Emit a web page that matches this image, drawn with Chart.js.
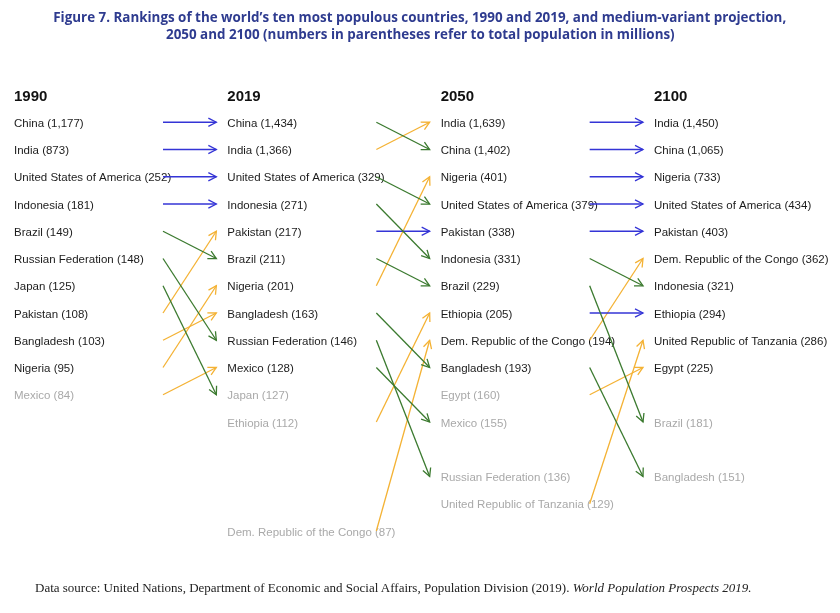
<!DOCTYPE html>
<html>
<head>
<meta charset="utf-8">
<script src="https://cdn.jsdelivr.net/npm/chart.js@4.4.1/dist/chart.umd.min.js"></script>
<style>
html,body{margin:0;padding:0;background:#fff;}
#wrap{position:relative;width:840px;height:613px;overflow:hidden;}
#title{position:absolute;top:8px;left:0;width:840px;text-align:center;font-family:"Open Sans","Liberation Sans",sans-serif;font-weight:bold;font-size:14.5px;line-height:17px;color:#2e3b8f;white-space:nowrap;z-index:2;}
#title span{display:inline-block;transform-origin:50% 50%;}
#footer{position:absolute;left:35px;top:580px;font-family:"Liberation Serif","Times New Roman",serif;font-size:13px;line-height:16px;color:#222;white-space:nowrap;z-index:2;}
canvas{position:absolute;left:0;top:0;}
</style>
</head>
<body>
<div id="wrap">
<canvas id="c" width="840" height="613"></canvas>
<div id="title"><span id="t1">Figure 7. Rankings of the world’s ten most populous countries, 1990 and 2019, and medium-variant projection,</span><br><span id="t2">2050 and 2100 (numbers in parentheses refer to total population in millions)</span></div>
<div id="footer">Data source: United Nations, Department of Economic and Social Affairs, Population Division (2019). <i>World Population Prospects 2019.</i></div>
</div>
<script>
// ---- Data ----
const years = ['1990', '2019', '2050', '2100'];

const countries1990 = ['China','India','United States of America','Indonesia','Brazil','Russian Federation','Japan','Pakistan','Bangladesh','Nigeria','Mexico'];
const pop1990 = [1177, 873, 252, 181, 149, 148, 125, 108, 103, 95, 84];
const rows1990 = [1,2,3,4,5,6,7,8,9,10,11];

const countries2019 = ['China','India','United States of America','Indonesia','Pakistan','Brazil','Nigeria','Bangladesh','Russian Federation','Mexico','Japan','Ethiopia','Dem. Republic of the Congo'];
const pop2019 = [1434, 1366, 329, 271, 217, 211, 201, 163, 146, 128, 127, 112, 87];
const rows2019 = [1,2,3,4,5,6,7,8,9,10,11,12,16];

const countries2050 = ['India','China','Nigeria','United States of America','Pakistan','Indonesia','Brazil','Ethiopia','Dem. Republic of the Congo','Bangladesh','Egypt','Mexico','Russian Federation','United Republic of Tanzania'];
const pop2050 = [1639, 1402, 401, 379, 338, 331, 229, 205, 194, 193, 160, 155, 136, 129];
const rows2050 = [1,2,3,4,5,6,7,8,9,10,11,12,14,15];

const countries2100 = ['India','China','Nigeria','United States of America','Pakistan','Dem. Republic of the Congo','Indonesia','Ethiopia','United Republic of Tanzania','Egypt','Brazil','Bangladesh'];
const pop2100 = [1450, 1065, 733, 434, 403, 362, 321, 294, 286, 225, 181, 151];
const rows2100 = [1,2,3,4,5,6,7,8,9,10,12,14];

// ---- Title fit (condensed look) ----
(function () {
  const t1 = document.getElementById('t1'), t2 = document.getElementById('t2');
  const s = 733 / t1.getBoundingClientRect().width;
  t1.style.transform = 'scaleX(' + s + ')';
  t2.style.transform = 'scaleX(' + s + ')';
})();

// ---- Build ----
const columns = [
  {names: countries1990, pops: pop1990, rows: rows1990},
  {names: countries2019, pops: pop2019, rows: rows2019},
  {names: countries2050, pops: pop2050, rows: rows2050},
  {names: countries2100, pops: pop2100, rows: rows2100}
];

const TAIL = 149/213.33, HEAD = 1 - 11/213.33;
const BLUE = '#3434d6', GREEN = '#3b7a2f', ORANGE = '#f4b234';

const datasets = [];
for (let c = 0; c < columns.length - 1; c++) {
  const a = columns[c], b = columns[c+1];
  a.names.forEach((n, i) => {
    const j = b.names.indexOf(n);
    if (j < 0) return;
    const r1 = a.rows[i], r2 = b.rows[j];
    const col = r1 === r2 ? BLUE : (r2 > r1 ? GREEN : ORANGE);
    datasets.push({
      label: n + ' ' + years[c] + '→' + years[c+1],
      data: [{x: c + TAIL, y: r1}, {x: c + HEAD, y: r2}],
      showLine: true,
      borderColor: col,
      backgroundColor: col,
      borderWidth: 1.3,
      pointRadius: 0,
      pointHoverRadius: 0,
      fill: false
    });
  });
}

const labelPlugin = {
  id: 'rankLabels',
  beforeDatasetsDraw(chart) {
    const ctx = chart.ctx, xs = chart.scales.x, ys = chart.scales.y;
    const dy = 1.5;
    ctx.save();
    ctx.textBaseline = 'middle';
    ctx.textAlign = 'left';
    years.forEach((y, c) => {
      ctx.font = 'bold 15px "Liberation Sans", Arial, sans-serif';
      ctx.fillStyle = '#111';
      ctx.fillText(y, xs.getPixelForValue(c), ys.getPixelForValue(0) + dy);
      const col = columns[c];
      ctx.font = '11.5px "Liberation Sans", Arial, sans-serif';
      col.names.forEach((n, i) => {
        const r = col.rows[i];
        ctx.fillStyle = r > 10 ? '#a9a9a9' : '#1c1c1c';
        ctx.fillText(n + ' (' + col.pops[i].toLocaleString('en-US') + ')', xs.getPixelForValue(c), ys.getPixelForValue(r) + dy);
      });
    });
    ctx.restore();
  },
  afterDatasetsDraw(chart) {
    const ctx = chart.ctx;
    ctx.save();
    chart.data.datasets.forEach((ds, k) => {
      const pts = chart.getDatasetMeta(k).data;
      const p0 = pts[0], p1 = pts[1];
      const ang = Math.atan2(p1.y - p0.y, p1.x - p0.x);
      const L = 9, A = 0.48;
      ctx.strokeStyle = ds.borderColor;
      ctx.lineWidth = 1.3;
      ctx.beginPath();
      ctx.moveTo(p1.x - L*Math.cos(ang - A), p1.y - L*Math.sin(ang - A));
      ctx.lineTo(p1.x, p1.y);
      ctx.lineTo(p1.x - L*Math.cos(ang + A), p1.y - L*Math.sin(ang + A));
      ctx.stroke();
    });
    ctx.restore();
  }
};

new Chart(document.getElementById('c'), {
  type: 'scatter',
  data: {datasets},
  options: {
    responsive: false,
    animation: false,
    layout: {padding: {left: 14, right: 186, top: 95, bottom: 82}},
    plugins: {legend: {display: false}, tooltip: {enabled: false}, title: {display: false}},
    scales: {
      x: {type: 'linear', display: false, min: 0, max: 3},
      y: {type: 'linear', display: false, min: 0, max: 16, reverse: true}
    }
  },
  plugins: [labelPlugin]
});
</script>
</body>
</html>
